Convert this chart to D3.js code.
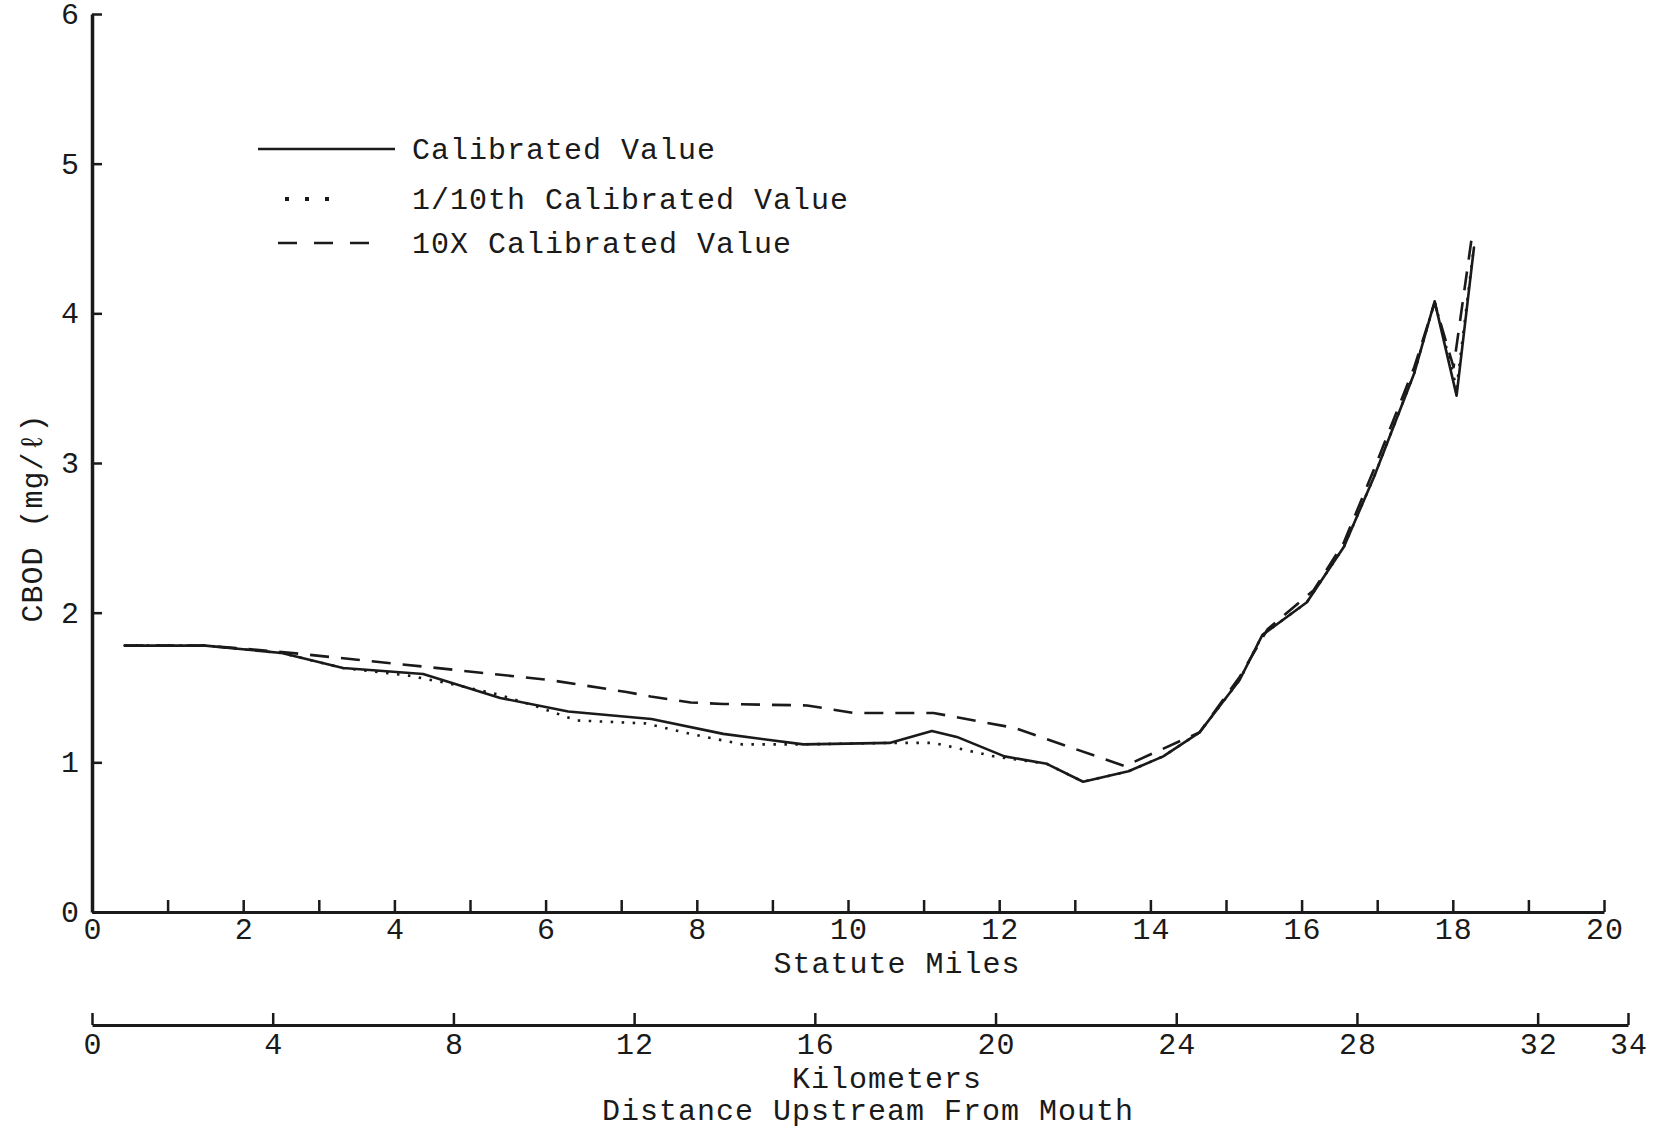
<!DOCTYPE html>
<html>
<head>
<meta charset="utf-8">
<script src="https://cdn.jsdelivr.net/npm/d3@7"></script>
<style>
  html, body { margin: 0; padding: 0; background: #fff; }
  svg { display: block; }
  text { font-family: "Liberation Mono", "DejaVu Sans Mono", monospace; fill: #1a1a1a; }
</style>
</head>
<body>
<svg id="chart" width="1666" height="1128"></svg>
<script>
// CBOD profiles along the river (distance in statute miles, CBOD in mg/l)
const calibratedMiles = [0.43, 1.50, 2.51, 3.32, 4.38, 5.40, 6.30, 7.40, 8.35, 9.41, 10.55, 11.11, 11.44, 12.07, 12.63, 13.11, 13.71, 14.17, 14.65, 15.18, 15.48, 16.07, 16.56, 16.96, 17.49, 17.76, 18.05, 18.28];
const calibratedCBOD  = [1.78, 1.78, 1.73, 1.63, 1.59, 1.43, 1.34, 1.29, 1.19, 1.12, 1.13, 1.21, 1.17, 1.04, 0.99, 0.87, 0.94, 1.04, 1.20, 1.55, 1.85, 2.07, 2.44, 2.91, 3.60, 4.08, 3.45, 4.44];

const tenthMiles = [0.43, 1.50, 2.51, 3.32, 4.18, 4.79, 5.40, 5.90, 6.41, 7.32, 7.92, 8.60, 9.41, 10.55, 11.13, 11.93, 12.63, 13.11, 13.71, 14.17, 14.65, 15.18, 15.48, 16.07, 16.56, 16.96, 17.49, 17.76, 18.05, 18.28];
const tenthCBOD  = [1.78, 1.78, 1.73, 1.63, 1.58, 1.52, 1.45, 1.37, 1.28, 1.26, 1.19, 1.12, 1.12, 1.13, 1.13, 1.04, 0.99, 0.87, 0.94, 1.04, 1.20, 1.55, 1.85, 2.07, 2.44, 2.91, 3.60, 4.08, 3.50, 4.45];

const tenXMiles = [0.43, 1.50, 2.46, 4.38, 6.05, 7.07, 7.39, 7.92, 8.35, 9.46, 10.07, 11.13, 12.20, 13.66, 14.47, 14.65, 15.18, 15.55, 16.16, 16.56, 16.96, 17.49, 17.76, 18.01, 18.26];
const tenXCBOD  = [1.78, 1.78, 1.74, 1.64, 1.55, 1.47, 1.44, 1.40, 1.39, 1.38, 1.33, 1.33, 1.23, 0.975, 1.16, 1.20, 1.57, 1.89, 2.15, 2.47, 2.96, 3.64, 4.07, 3.64, 4.54];

// Axis ticks
const mileTicks = d3.range(0, 21);
const kmTicks = [0, 4, 8, 12, 16, 20, 24, 28, 32, 34];
const cbodTicks = [0, 1, 2, 3, 4, 5, 6];

const legendLabels = ["Calibrated Value", "1/10th Calibrated Value", "10X Calibrated Value"];

const ink = "#1a1a1a";
const fontSize = 30;
const spacing = 1;

const svg = d3.select("#chart");

const x = d3.scaleLinear().domain([0, 20]).range([92, 1604]);
const xKm = d3.scaleLinear().domain([0, 34]).range([92, 1628]);
const y = d3.scaleLinear().domain([0, 6]).range([912, 14]);

function styleAxis(g, domainWidth) {
  g.select(".domain").attr("stroke", ink).attr("stroke-width", domainWidth);
  g.selectAll(".tick line").attr("stroke", ink).attr("stroke-width", 2.5);
  g.selectAll(".tick text")
    .attr("font-size", fontSize)
    .attr("letter-spacing", spacing)
    .attr("fill", ink);
  g.attr("font-family", null);
}

// Statute miles axis
const gx = svg.append("g")
  .attr("transform", `translate(0,${y(0)})`)
  .call(d3.axisBottom(x)
    .tickValues(mileTicks)
    .tickSize(-12)
    .tickSizeOuter(0)
    .tickPadding(6)
    .tickFormat(d => d % 2 === 0 ? d : ""));
styleAxis(gx, 3);
gx.selectAll(".tick text").attr("dx", spacing / 2);

// Kilometers axis
const gk = svg.append("g")
  .attr("transform", "translate(0,1025)")
  .call(d3.axisBottom(xKm)
    .tickValues(kmTicks)
    .tickSize(-12)
    .tickSizeOuter(0)
    .tickPadding(8)
    .tickFormat(d3.format("d")));
styleAxis(gk, 3);
gk.selectAll(".tick text").attr("dx", spacing / 2);

// CBOD axis
const gy = svg.append("g")
  .attr("transform", `translate(${x(0)},0)`)
  .call(d3.axisLeft(y)
    .tickValues(cbodTicks)
    .tickSize(-10)
    .tickSizeOuter(0)
    .tickPadding(12)
    .tickFormat(d3.format("d")));
styleAxis(gy, 3.5);

// Axis titles
svg.append("text")
  .attr("x", 897).attr("y", 973)
  .attr("text-anchor", "middle")
  .attr("font-size", fontSize).attr("letter-spacing", spacing)
  .text("Statute Miles");

svg.append("text")
  .attr("x", 887).attr("y", 1088)
  .attr("text-anchor", "middle")
  .attr("font-size", fontSize).attr("letter-spacing", spacing)
  .text("Kilometers");

svg.append("text")
  .attr("x", 868).attr("y", 1120)
  .attr("text-anchor", "middle")
  .attr("font-size", fontSize).attr("letter-spacing", spacing)
  .text("Distance Upstream From Mouth");

svg.append("text")
  .attr("transform", "translate(42,518) rotate(-90)")
  .attr("text-anchor", "middle")
  .attr("font-size", fontSize).attr("letter-spacing", spacing)
  .text("CBOD (mg/ℓ)");

// Profile lines
const line = d3.line().x(d => x(d[0])).y(d => y(d[1]));

const series = [
  { miles: tenthMiles, cbod: tenthCBOD, dash: "2.5,8.5", width: 2.6, cap: "butt" },
  { miles: tenXMiles, cbod: tenXCBOD, dash: "19,12", width: 2.6, cap: "butt" },
  { miles: calibratedMiles, cbod: calibratedCBOD, dash: null, width: 2.6, cap: "round" }
];

svg.append("g").selectAll("path")
  .data(series)
  .join("path")
  .attr("d", s => line(d3.zip(s.miles, s.cbod)))
  .attr("fill", "none")
  .attr("stroke", ink)
  .attr("stroke-width", s => s.width)
  .attr("stroke-linejoin", "round")
  .attr("stroke-linecap", s => s.cap)
  .attr("stroke-dasharray", s => s.dash);

// Legend
const legend = svg.append("g");
const legendRows = [
  { y: 149, x1: 258, x2: 395, dash: null, width: 2.4 },
  { y: 199, x1: 285, x2: 329, dash: "4,16", width: 4 },
  { y: 243, x1: 278, x2: 371, dash: "19,17", width: 2.6 }
];
legendRows.forEach((r, i) => {
  legend.append("line")
    .attr("x1", r.x1).attr("x2", r.x2)
    .attr("y1", r.y).attr("y2", r.y)
    .attr("stroke", ink)
    .attr("stroke-width", r.width)
    .attr("stroke-dasharray", r.dash);
  legend.append("text")
    .attr("x", 412).attr("y", r.y + 10)
    .attr("font-size", fontSize).attr("letter-spacing", spacing)
    .text(legendLabels[i]);
});
</script>
</body>
</html>
